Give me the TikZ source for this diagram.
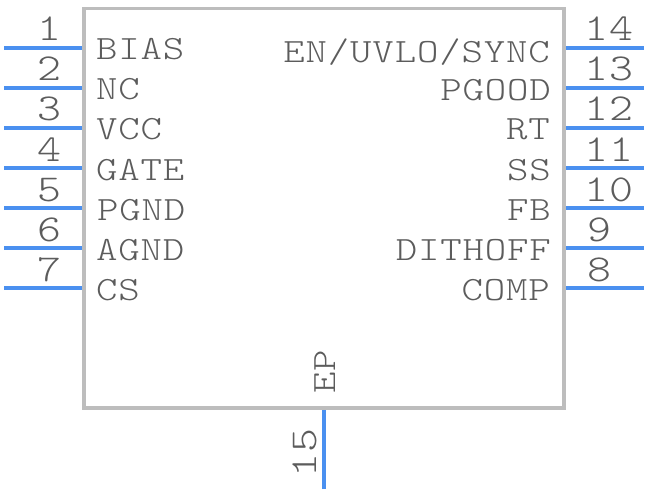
\documentclass[tikz,border=0pt]{standalone}
\usepackage{fontspec}
\setmonofont[FakeStretch=1.2, LetterSpace=2.5]{Latin Modern Mono Light}
\usepackage{tikz, xcolor}
\definecolor{bodygray}{HTML}{BDBDBD}
\definecolor{pinblue}{HTML}{4A90F0}
\definecolor{textgray}{HTML}{5C5C5C}

\begin{document}
\begin{tikzpicture}[x=1pt, y=-1pt]
\tikzstyle{pinline}=[draw=pinblue, line width=4pt]
\tikzstyle{pinname}=[inner sep=0pt, text=textgray, font=\ttfamily\fontsize{34}{34}\selectfont]
\tikzstyle{pinnamel}=[pinname, anchor=base west]
\tikzstyle{pinnamer}=[pinname, anchor=base east]
\tikzstyle{pinnum}=[pinname, anchor=base, font=\ttfamily\fontsize{38}{38}\selectfont]
\useasboundingbox (0,0) rectangle (648,492);

\node[draw=bodygray, line width=3.5pt, inner sep=0pt, minimum width=480pt, minimum height=399.5pt] (chip) at (324,208.2) {};

\coordinate (L1a) at (4,48);
\coordinate (L1b) at (chip.west |- L1a);
\draw[pinline] (L1a) -- (L1b);
\node[pinnum] (N1) at (49,41) {1};
\node[pinnamel] (T1) at (96,60) {BIAS};
\coordinate (L2a) at (4,88);
\coordinate (L2b) at (chip.west |- L2a);
\draw[pinline] (L2a) -- (L2b);
\node[pinnum] (N2) at (49,81) {2};
\node[pinnamel] (T2) at (96,100) {NC};
\coordinate (L3a) at (4,128);
\coordinate (L3b) at (chip.west |- L3a);
\draw[pinline] (L3a) -- (L3b);
\node[pinnum] (N3) at (49,121) {3};
\node[pinnamel] (T3) at (96,140) {VCC};
\coordinate (L4a) at (4,168);
\coordinate (L4b) at (chip.west |- L4a);
\draw[pinline] (L4a) -- (L4b);
\node[pinnum] (N4) at (49,161) {4};
\node[pinnamel] (T4) at (96,180) {GATE};
\coordinate (L5a) at (4,208);
\coordinate (L5b) at (chip.west |- L5a);
\draw[pinline] (L5a) -- (L5b);
\node[pinnum] (N5) at (49,201) {5};
\node[pinnamel] (T5) at (97,220) {PGND};
\coordinate (L6a) at (4,248);
\coordinate (L6b) at (chip.west |- L6a);
\draw[pinline] (L6a) -- (L6b);
\node[pinnum] (N6) at (49,241) {6};
\node[pinnamel] (T6) at (96,260) {AGND};
\coordinate (L7a) at (4,288);
\coordinate (L7b) at (chip.west |- L7a);
\draw[pinline] (L7a) -- (L7b);
\node[pinnum] (N7) at (49,281) {7};
\node[pinnamel] (T7) at (96,300) {CS};

\coordinate (R14a) at (644,48);
\coordinate (R14b) at (chip.east |- R14a);
\draw[pinline] (R14a) -- (R14b);
\node[pinnum] (N14) at (609,41) {14};
\node[pinnamer] (T14) at (550,63) {EN/UVLO/SYNC};
\coordinate (R13a) at (644,88);
\coordinate (R13b) at (chip.east |- R13a);
\draw[pinline] (R13a) -- (R13b);
\node[pinnum] (N13) at (609,81) {13};
\node[pinnamer] (T13) at (551,101) {PGOOD};
\coordinate (R12a) at (644,128);
\coordinate (R12b) at (chip.east |- R12a);
\draw[pinline] (R12a) -- (R12b);
\node[pinnum] (N12) at (609,121) {12};
\node[pinnamer] (T12) at (550,140) {RT};
\coordinate (R11a) at (644,168);
\coordinate (R11b) at (chip.east |- R11a);
\draw[pinline] (R11a) -- (R11b);
\node[pinnum] (N11) at (609,161) {11};
\node[pinnamer] (T11) at (551,180) {SS};
\coordinate (R10a) at (644,208);
\coordinate (R10b) at (chip.east |- R10a);
\draw[pinline] (R10a) -- (R10b);
\node[pinnum] (N10) at (609,201) {10};
\node[pinnamer] (T10) at (551,220) {FB};
\coordinate (R9a) at (644,248);
\coordinate (R9b) at (chip.east |- R9a);
\draw[pinline] (R9a) -- (R9b);
\node[pinnum] (N9) at (599,241) {9};
\node[pinnamer] (T9) at (551,260) {DITHOFF};
\coordinate (R8a) at (644,288);
\coordinate (R8b) at (chip.east |- R8a);
\draw[pinline] (R8a) -- (R8b);
\node[pinnum] (N8) at (599,281) {8};
\node[pinnamer] (T8) at (550,300) {COMP};

\coordinate (B15a) at (324,489);
\coordinate (B15b) at (324,410);
\draw[pinline] (B15a) -- (B15b);
\node[pinnum, rotate=90] (N15) at (316,453) {15};
\node[pinname, anchor=base west, rotate=90] (T15) at (335,394) {EP};
\end{tikzpicture}
\end{document}
